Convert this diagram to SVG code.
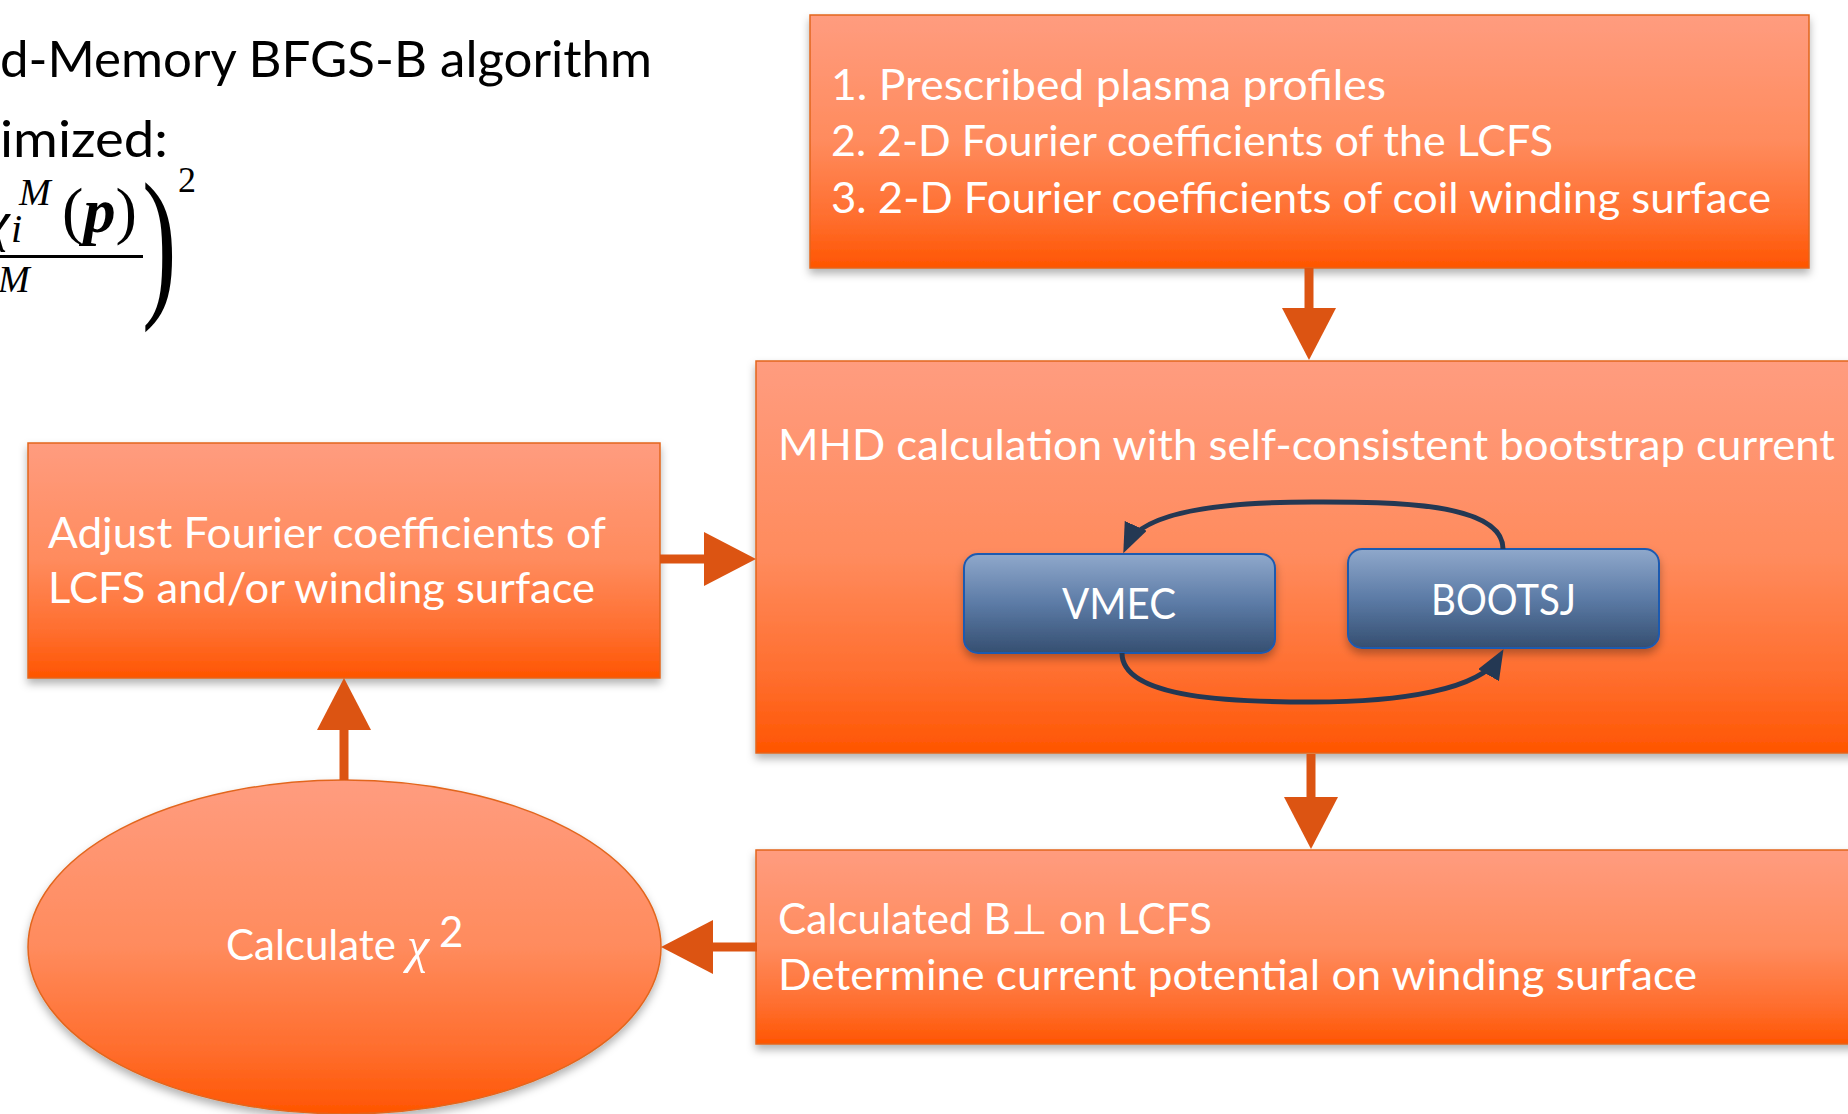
<svg xmlns="http://www.w3.org/2000/svg" width="1848" height="1114" viewBox="0 0 1848 1114">
<defs>
  <linearGradient id="gO" x1="0" y1="0" x2="0" y2="1">
    <stop offset="0" stop-color="#FF9C7F"/>
    <stop offset="0.5" stop-color="#FF8B5D"/>
    <stop offset="0.82" stop-color="#FF6C2B"/>
    <stop offset="1" stop-color="#FF5500"/>
  </linearGradient>
  <linearGradient id="gB" x1="0" y1="0" x2="0" y2="1">
    <stop offset="0" stop-color="#8FA8CB"/>
    <stop offset="0.5" stop-color="#5C7BA6"/>
    <stop offset="1" stop-color="#354F71"/>
  </linearGradient>
  <filter id="sh" x="-5%" y="-10%" width="110%" height="130%">
    <feDropShadow dx="0" dy="5" stdDeviation="4" flood-color="#000" flood-opacity="0.3"/>
  </filter>
  <marker id="ao" markerUnits="userSpaceOnUse" viewBox="0 0 52 54" refX="32" refY="27" markerWidth="52" markerHeight="54" orient="auto">
    <path d="M0,0 L52,27 L0,54 Z" fill="#DC5412"/>
  </marker>
  <marker id="an" markerUnits="userSpaceOnUse" viewBox="0 0 30 24" refX="21" refY="12" markerWidth="30" markerHeight="24" orient="auto">
    <path d="M0,0 L30,12 L0,24 Z" fill="#243853"/>
  </marker>
</defs>
<style>
  .box{fill:url(#gO);stroke:#E2661E;stroke-width:1.5;filter:url(#sh)}
  .bbox{fill:url(#gB);stroke:#1F5AB0;stroke-width:2;filter:url(#sh)}
  .wt{font-family:Lato,"Open Sans","Liberation Sans",sans-serif;fill:#fff;font-size:42px}
  .bk{font-family:Lato,"Open Sans","Liberation Sans",sans-serif;fill:#000;font-size:50px}
  .mth{font-family:"Liberation Serif","DejaVu Serif",serif;fill:#000}
  .mthw{font-family:"Liberation Serif","DejaVu Serif",serif;fill:#fff}
  .conn{stroke:#DC5412;stroke-width:9;fill:none;marker-end:url(#ao)}
  .arc{stroke:#243853;stroke-width:5;fill:none;marker-end:url(#an)}
</style>
<rect x="0" y="0" width="1848" height="1114" fill="#fff"/>

<g id="title">
  <text class="bk" x="0" y="77" textLength="652" lengthAdjust="spacingAndGlyphs">d-Memory BFGS-B algorithm</text>
  <text class="bk" x="0" y="157" textLength="168" lengthAdjust="spacingAndGlyphs">imized:</text>
</g>

<g id="formula">
  <text class="mth" x="-15" y="240" font-size="56" font-style="italic">χ</text>
  <text class="mth" x="11" y="242" font-size="40" font-style="italic">i</text>
  <text class="mth" x="19" y="205" font-size="38" font-style="italic">M</text>
  <text class="mth" x="62" y="232" font-size="64" textLength="75" lengthAdjust="spacingAndGlyphs">(<tspan font-weight="bold" font-style="italic">p</tspan>)</text>
  <rect x="0" y="255" width="143" height="3" fill="#000"/>
  <text class="mth" x="-2" y="292" font-size="38" font-style="italic">M</text>
  <text class="mth" transform="translate(142,296.5) scale(0.63,1)" font-size="165">)</text>
  <text class="mth" x="178" y="192" font-size="36">2</text>
</g>

<g id="node-inputs">
  <rect class="box" x="810" y="15" width="999" height="253"/>
  <text class="wt" x="831" y="100" textLength="555" lengthAdjust="spacingAndGlyphs">1. Prescribed plasma profiles</text>
  <text class="wt" x="831" y="156" textLength="722" lengthAdjust="spacingAndGlyphs">2. 2-D Fourier coefficients of the LCFS</text>
  <text class="wt" x="831" y="213" textLength="940" lengthAdjust="spacingAndGlyphs">3. 2-D Fourier coefficients of coil winding surface</text>
</g>

<g id="node-mhd">
  <rect class="box" x="756" y="361" width="1110" height="392"/>
  <text class="wt" x="778" y="460" textLength="1057" lengthAdjust="spacingAndGlyphs">MHD calculation with self-consistent bootstrap current</text>
</g>

<g id="node-vmec">
  <rect class="bbox" x="964" y="554" width="311" height="99" rx="14"/>
  <text class="wt" x="1062" y="619" textLength="114" lengthAdjust="spacingAndGlyphs">VMEC</text>
</g>

<g id="node-bootsj">
  <rect class="bbox" x="1348" y="549" width="311" height="99" rx="14"/>
  <text class="wt" x="1431" y="615" textLength="145" lengthAdjust="spacingAndGlyphs">BOOTSJ</text>
</g>

<g id="node-adjust">
  <rect class="box" x="28" y="443" width="632" height="235"/>
  <text class="wt" x="48" y="548" textLength="558" lengthAdjust="spacingAndGlyphs">Adjust Fourier coefficients of</text>
  <text class="wt" x="48" y="603" textLength="547" lengthAdjust="spacingAndGlyphs">LCFS and/or winding surface</text>
</g>

<g id="node-bperp">
  <rect class="box" x="756" y="850" width="1110" height="194"/>
  <text class="wt" x="778" y="934" textLength="434" lengthAdjust="spacingAndGlyphs">Calculated B⊥ on LCFS</text>
  <text class="wt" x="778" y="990" textLength="919" lengthAdjust="spacingAndGlyphs">Determine current potential on winding surface</text>
</g>

<g id="node-chi">
  <ellipse class="box" cx="344.5" cy="947" rx="316.5" ry="167"/>
  <text class="wt" x="226" y="960" textLength="170" lengthAdjust="spacingAndGlyphs">Calculate</text>
  <text class="mthw" x="407" y="962" font-size="50" font-style="italic">χ</text>
  <text class="wt" x="439" y="947" font-size="30">2</text>
</g>

<g id="connectors">
  <path class="conn" d="M1309,268 L1309,340"/>
  <path class="conn" d="M1311,754 L1311,829"/>
  <path class="conn" d="M660,559 L736,559"/>
  <path class="conn" d="M757,947 L681,947"/>
  <path class="conn" d="M344,780 L344,698"/>
  <path class="arc" d="M1503,549 C1503,500 1380,502 1312,502 C1220,502 1142,512 1127,545"/>
  <path class="arc" d="M1122,653 C1122,700 1240,702 1312,702 C1400,702 1480,690 1499,657"/>
</g>
</svg>
